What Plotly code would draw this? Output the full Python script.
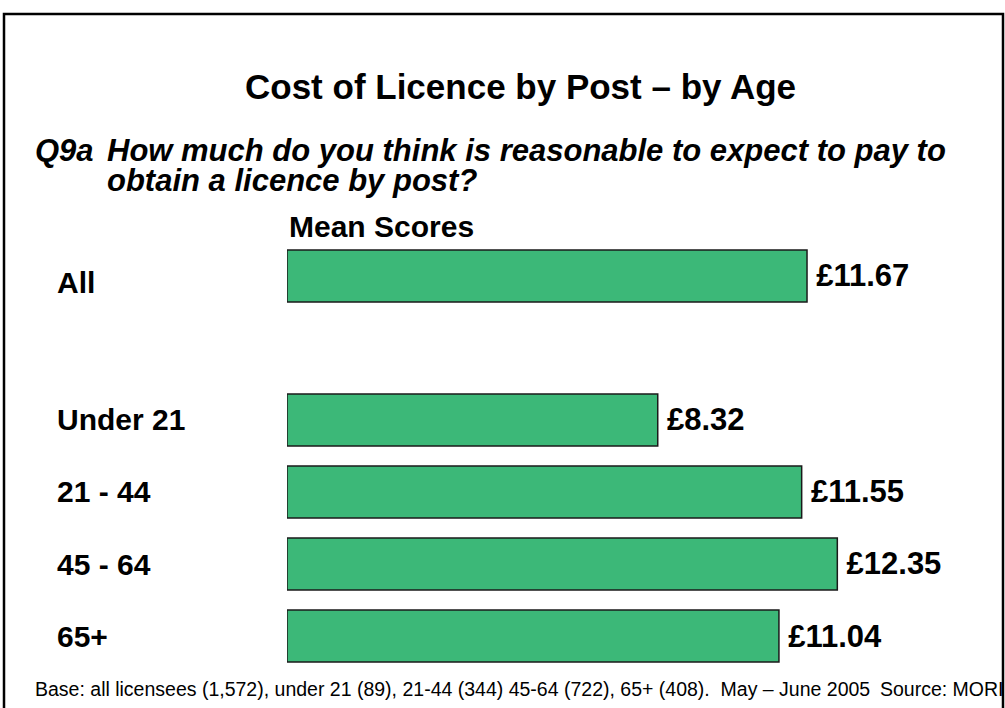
import plotly.graph_objects as go

categories = ["All", "Under 21", "21 - 44", "45 - 64", "65+"]
values = [11.67, 8.32, 11.55, 12.35, 11.04]
axis_order = ["All", " ", "Under 21", "21 - 44", "45 - 64", "65+"]

title_text = "Cost of Licence by Post – by Age"
q_label = "Q9a"
q_line1 = "How much do you think is reasonable to expect to pay to"
q_line2 = "obtain a licence by post?"
axis_caption = "Mean Scores"
base_text = "Base: all licensees (1,572), under 21 (89), 21-44 (344) 45-64 (722), 65+ (408).  May – June 2005"
source_text = "Source: MORI"

W, H = 1005, 708
FONT = "Liberation Sans, Arial, sans-serif"
GREEN = "#3CB878"

fig = go.Figure()
fig.add_trace(go.Bar(
    x=values, y=categories, orientation="h",
    width=0.72,
    marker=dict(color=GREEN, line=dict(color="#1a1a1a", width=1.5)),
    texttemplate="\u2009<b>£%{x:.2f}</b>",
    textposition="outside",
    textfont=dict(family=FONT, size=31, color="#000"),
    constraintext="none",
    cliponaxis=False,
    hoverinfo="skip",
))

def px_x(p):
    return p / W

def px_y(p):
    return 1 - p / H

annotations = [
    dict(text="<b>" + title_text + "</b>", x=px_x(520), y=px_y(86), xanchor="center", yanchor="middle",
         font=dict(size=35)),
    dict(text="<b><i>" + q_label + "</i></b>", x=px_x(33), y=px_y(151), xanchor="left", yanchor="middle",
         font=dict(size=31)),
    dict(text="<b><i>" + q_line1 + "</i></b>", x=px_x(105), y=px_y(151), xanchor="left", yanchor="middle",
         font=dict(size=31)),
    dict(text="<b><i>" + q_line2 + "</i></b>", x=px_x(105), y=px_y(180), xanchor="left", yanchor="middle",
         font=dict(size=31)),
    dict(text="<b>" + axis_caption + "</b>", x=px_x(287), y=px_y(226), xanchor="left", yanchor="middle",
         font=dict(size=30)),
    dict(text=base_text, x=px_x(33), y=px_y(689), xanchor="left", yanchor="middle",
         font=dict(size=19.5)),
    dict(text=source_text, x=px_x(878), y=px_y(689), xanchor="left", yanchor="middle",
         font=dict(size=19.5)),
]
for c in categories:
    annotations.append(dict(text="<b>" + c + "</b>", x=px_x(55), xref="paper", y=c, yref="y",
                            xanchor="left", yanchor="middle", font=dict(size=30),
                            yshift=-7 if c == "All" else 0))
for a in annotations:
    a.setdefault("xref", "paper")
    a.setdefault("yref", "paper")
    a["showarrow"] = False
    a["font"].setdefault("family", FONT)
    a["font"].setdefault("color", "#000")

fig.update_layout(
    width=W, height=H,
    margin=dict(l=0, r=0, t=0, b=0),
    paper_bgcolor="white", plot_bgcolor="white",
    showlegend=False,
    font=dict(family=FONT, color="#000"),
    xaxis=dict(domain=[287 / W, 1], range=[0, (W - 287) / 44.56], visible=False, fixedrange=True),
    yaxis=dict(domain=[0, 1], type="category", categoryorder="array", categoryarray=axis_order,
               range=[6.0, -3.833], visible=False, fixedrange=True),
    annotations=annotations,
    shapes=[dict(type="rect", xref="paper", yref="paper",
                 x0=px_x(4), x1=px_x(1003), y0=-0.02, y1=px_y(14),
                 line=dict(color="#000", width=2.5), fillcolor="rgba(0,0,0,0)", layer="above")],
)

fig.write_html("out.html", config={"displayModeBar": False},
               post_script="document.body.style.margin='0';document.body.style.overflow='hidden';")
